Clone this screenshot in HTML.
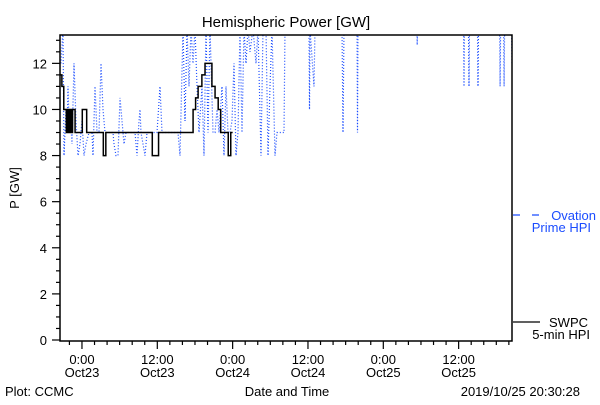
<!DOCTYPE html>
<html><head><meta charset="utf-8"><style>
body{margin:0;background:#fff}
svg text{font-family:"Liberation Sans",sans-serif;font-size:13px;fill:#000}
</style></head><body>
<svg id="c" width="600" height="400" xmlns="http://www.w3.org/2000/svg">
<rect width="600" height="400" fill="#fff"/>
<text x="286" y="27" text-anchor="middle" style="font-size:15px">Hemispheric Power [GW]</text>
<text transform="translate(19,188) rotate(-90)" text-anchor="middle">P [GW]</text>
<text x="287" y="396" text-anchor="middle">Date and Time</text>
<text x="5" y="396">Plot: CCMC</text>
<text x="580" y="396" text-anchor="end">2019/10/25 20:30:28</text>
<defs><clipPath id="clip"><rect x="60" y="35" width="452" height="306"/></clipPath></defs>
<g id="axes"></g>
<g id="series" clip-path="url(#clip)"></g>
<rect x="60" y="35" width="452" height="306" fill="none" stroke="#000" stroke-width="1.5"/>
<g>
<line x1="513" y1="215" x2="541" y2="215" stroke="#1a4cff" stroke-width="1.2" stroke-dasharray="7,12"/>
<text x="596" y="220" text-anchor="end" style="fill:#1a4cff">Ovation</text>
<text x="591" y="232" text-anchor="end" style="fill:#1a4cff">Prime HPI</text>
</g>
<g>
<line x1="513" y1="322" x2="540" y2="322" stroke="#000" stroke-width="1.2"/>
<text x="588" y="327" text-anchor="end">SWPC</text>
<text x="590" y="339" text-anchor="end">5-min HPI</text>
</g>
</svg>
<script>
const swpcTimes=[0,0.3,0.6,1.0,1.2,1.4,1.6,1.8,2.0,2.4,3.55,4.25,6.9,7.3,14.7,15.7,21.2,21.6,22.0,22.6,23.1,24.2,24.7,25.2,25.6,26.8,27.2,27.5];
const swpcValues=[11.5,11,10,9,10,9,10,9,10,9,10,9,8,9,8,9,10,10.5,11,11.5,12,11,10.5,10,9,8,9,9];
const ovTimes=[0.16,0.48,0.64,0.96,1.12,1.27,1.43,1.59,1.91,2.23,2.55,2.87,3.19,3.5,3.82,4.14,4.62,5.1,5.26,5.58,5.89,6.21,6.53,6.85,7.17,8.44,8.6,8.92,9.24,9.56,9.88,10.2,10.51,11.95,12.1,12.27,12.58,12.74,12.9,13.22,13.54,13.86,15.45,15.93,16.25,18.8,19.12,19.6,19.91,20.23,20.55,20.87,21.19,21.51,21.82,22.14,22.62,22.94,23.26,23.58,23.9,24.37,24.69,25.01,25.33,25.81,26.13,26.45,26.76,27.08,27.4,27.72,28.04,28.36,28.67,28.99,29.31,29.63,29.95,30.27,
30.74,31.22,31.54,32.02,32.34,32.81,33.13,33.45,33.77,34.25,34.57,35.68,35.84,39.66,39.74,39.82,40.46,40.62,44.92,45.08,45.24,47.31,47.39,47.47,56.87,56.9,56.96,64.28,64.36,64.44,65.07,65.15,65.23,66.51,66.59,66.67,70.02,70.1,70.18,70.66,70.74,70.82,71.93,72];
const ovValues=[12,13.5,8,10,9,11,9.5,10,8.5,12,9.5,8,8.5,9.5,8,8.5,9,9,8,11,9,9,12,10,9,9,8.5,8,8,10.5,9.5,8.5,9,9,8.5,8,9.5,10,9,8.5,8,9,9,11,9,9,8,13.5,9.5,13.5,11,13.5,12,13.5,11,9,11,8,13.5,9,13.5,9,9,10,9,11,8,11,9,9,9.5,12,8,9,13.5,9,13.5,12,13.5,12.5,
13.5,12,13.5,8,13.5,13.5,8,11,13.5,8,9,9,13.5,13.5,10,13.5,11,13.5,13.5,9,13.5,13.5,9,13.5,13.5,12.8,13.5,13.5,11,13.5,13.5,11,13.5,13.5,11,13.5,13.5,11,13.5,13.5,11,13.5,13.5,12];
const yTicks=[0,2,4,6,8,10,12];
const xTickHours=[3.5,15.5,27.5,39.5,51.5,63.5];
const xTickTimes=["0:00","12:00","0:00","12:00","0:00","12:00"];
const xTickDates=["Oct23","Oct23","Oct24","Oct24","Oct25","Oct25"];
const NS="http://www.w3.org/2000/svg";
const X0=60,X1=512,Y0=340,Y1=35,TMAX=72,VMAX=13.23;
function xs(t){return X0+(X1-X0)*t/TMAX;}
function ys(v){return Y0-(Y0-Y1)*v/VMAX;}
function mk(tag,attrs,parent){const e=document.createElementNS(NS,tag);for(const k in attrs)e.setAttribute(k,attrs[k]);parent.appendChild(e);return e;}
const axes=document.getElementById('axes'),series=document.getElementById('series');
for(let v=0;v<=13;v+=0.5){const major=v%2===0;
const l=mk('line',{x1:X0-(major?8:4),x2:X0,y1:ys(v),y2:ys(v),stroke:'#000','stroke-width':1.2},axes);

}
yTicks.forEach(v=>{const t=mk('text',{x:47,y:ys(v)+5,'text-anchor':'end'},axes);t.textContent=v;

});
for(let h=1.5;h<TMAX;h+=2){const major=((h-3.5)%12+12)%12===0;
const l=mk('line',{x1:xs(h),x2:xs(h),y1:341,y2:major?349:345,stroke:'#000','stroke-width':1.2},axes);

}
xTickHours.forEach((h,i)=>{const t=mk('text',{x:xs(h),y:364,'text-anchor':'middle'},axes);t.textContent=xTickTimes[i];


const d=mk('text',{x:xs(h),y:377,'text-anchor':'middle'},axes);d.textContent=xTickDates[i];

});
let pb='';ovTimes.forEach((t,i)=>{pb+=(i?'L':'M')+xs(t).toFixed(1)+' '+ys(ovValues[i]).toFixed(1);});
const ov=mk('path',{d:pb,fill:'none',stroke:'#1a4cff','stroke-width':1.2,'stroke-dasharray':'1,2'},series);


let ps='';swpcTimes.forEach((t,i)=>{if(i===0)ps+='M'+xs(t)+' '+ys(swpcValues[i]);else ps+='L'+xs(t)+' '+ys(swpcValues[i-1])+'L'+xs(t)+' '+ys(swpcValues[i]);});
const sw=mk('path',{d:ps,fill:'none',stroke:'#000','stroke-width':1.5},series);


</script>
</body></html>
